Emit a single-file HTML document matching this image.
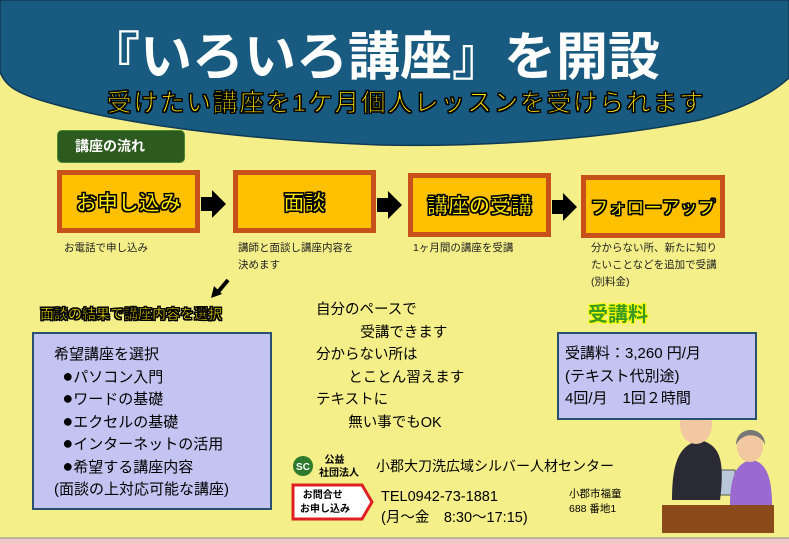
<!DOCTYPE html>
<html><head><meta charset="utf-8"><style>
body{margin:0;width:789px;height:544px;overflow:hidden;background:#fff;font-family:"Liberation Sans","Noto Sans CJK JP",sans-serif}
.a{position:absolute;white-space:nowrap}
.o{color:#ffe800;font-weight:bold;-webkit-text-stroke:1px #000;text-shadow:1px 1px 0 #000,-1px 1px 0 #000,1px -1px 0 #000,-1px -1px 0 #000}
.fb{position:absolute;background:#ffc000;border:5px solid #c8501a;box-sizing:border-box;display:flex;align-items:center;justify-content:center;font-size:21px;white-space:nowrap}
.cap{font-size:10.5px;color:#222;line-height:17px}
.b{font-size:18px;line-height:1}
</style></head><body>
<div class="a" style="left:0;top:0;width:789px;height:544px;background:#f4ef89"></div>
<svg class="a" style="left:0;top:0" width="789" height="544">
<path d="M0,0 H789 V78 C770,95 740,110 700,120 C600,140 480,147 380,145 C250,140 120,125 40,100 C15,92 5,85 0,72 Z" fill="#195b80" stroke="#0e3a55" stroke-width="1.5"/>
<rect x="0" y="538" width="789" height="6" fill="#f0c8c8"/>
<line x1="0" y1="538" x2="789" y2="538" stroke="#888"/>
<line x1="228" y1="280" x2="218" y2="292" stroke="#000" stroke-width="4"/>
<polygon points="211,298 214,286 222,294" fill="#000"/>
<g fill="#000">
<rect x="201" y="197" width="12" height="14"/><polygon points="212,190 226,204 212,218"/>
<rect x="377" y="198" width="12" height="14"/><polygon points="388,191 402,205 388,219"/>
<rect x="552" y="200" width="12" height="14"/><polygon points="563,193 577,207 563,221"/>
</g>
<rect x="662" y="505" width="112" height="28" fill="#8a4a1a"/>
<rect x="700" y="470" width="35" height="25" fill="#b8c8d8" stroke="#555"/>
<path d="M672,500 C672,460 680,445 700,440 C720,445 725,460 720,500 Z" fill="#2a2a35"/>
<ellipse cx="696" cy="425" rx="16" ry="19" fill="#f2c8a0"/>
<path d="M680,418 C680,400 712,400 712,418 L712,410 C706,402 686,402 680,410Z" fill="#666"/>
<path d="M730,505 C730,470 740,462 752,460 C765,462 772,475 772,505Z" fill="#9a6ad0"/>
<ellipse cx="750" cy="447" rx="13" ry="15" fill="#f2c8a0"/>
<path d="M736,445 C736,425 765,425 765,445 C760,432 742,432 736,445Z" fill="#777"/>
<circle cx="303" cy="466" r="10" fill="#2d7a2d"/><text x="303" y="470" font-size="10" fill="#fff" text-anchor="middle" font-weight="bold">SC</text>
<path d="M293,485 H362 L372,502 L362,519 H293 Z" fill="#fff" stroke="#e02020" stroke-width="3"/>
</svg>
<div class="a" style="left:88px;top:15px;font-size:52px;color:#fff;font-weight:bold">『いろいろ講座』を開設</div>
<div class="a o" style="left:107px;top:84px;font-size:24.5px;font-weight:normal;letter-spacing:2px">受けたい講座を1ケ月個人レッスンを受けられます</div>
<div class="a" style="left:57px;top:130px;width:128px;height:33px;background:#2d5a1e;border:1px solid #4a8a30;border-radius:5px;box-sizing:border-box;color:#fff;font-size:14px;font-weight:bold;line-height:31px;padding-left:17px">講座の流れ</div>
<div class="fb o" style="left:57px;top:170px;width:143px;height:63px">お申し込み</div>
<div class="fb o" style="left:233px;top:170px;width:143px;height:63px">面談</div>
<div class="fb o" style="left:408px;top:173px;width:143px;height:64px">講座の受講</div>
<div class="fb o" style="left:581px;top:175px;width:144px;height:63px;font-size:18px">フォローアップ</div>
<div class="a cap" style="left:64px;top:240px">お電話で申し込み</div>
<div class="a cap" style="left:238px;top:240px">講師と面談し講座内容を<br>決めます</div>
<div class="a cap" style="left:413px;top:240px">1ヶ月間の講座を受講</div>
<div class="a cap" style="left:591px;top:240px">分からない所、新たに知り<br>たいことなどを追加で受講<br>(別料金)</div>
<div class="a o" style="left:40px;top:304px;font-size:14px">面談の結果で講座内容を選択</div>
<div class="a" style="left:32px;top:332px;width:240px;height:178px;background:#c4c4f2;border:2px solid #2a5070;box-sizing:border-box;font-size:15px;line-height:22.5px;padding:10px 0 0 20px">希望講座を選択<br>&nbsp;&nbsp;<span class="b">●</span>パソコン入門<br>&nbsp;&nbsp;<span class="b">●</span>ワードの基礎<br>&nbsp;&nbsp;<span class="b">●</span>エクセルの基礎<br>&nbsp;&nbsp;<span class="b">●</span>インターネットの活用<br>&nbsp;&nbsp;<span class="b">●</span>希望する講座内容<br>(面談の上対応可能な講座)</div>
<div class="a" style="left:316px;top:299px;font-size:14.5px;line-height:22.5px">自分のペースで<br>&nbsp;&nbsp;&nbsp;&nbsp;&nbsp;&nbsp;&nbsp;&nbsp;&nbsp;&nbsp;&nbsp;受講できます<br>分からない所は<br>&nbsp;&nbsp;&nbsp;&nbsp;&nbsp;&nbsp;&nbsp;&nbsp;とことん習えます<br>テキストに<br>&nbsp;&nbsp;&nbsp;&nbsp;&nbsp;&nbsp;&nbsp;&nbsp;無い事でもOK</div>
<div class="a" style="left:588px;top:298px;font-size:20px;font-weight:bold;color:#3a9a20;text-shadow:1px 1px 0 #ff0,-1px 1px 0 #ff0,1px -1px 0 #ff0,-1px -1px 0 #ff0">受講料</div>
<div class="a" style="left:557px;top:332px;width:200px;height:88px;background:#c4c4f2;border:2px solid #2a5070;box-sizing:border-box;font-size:15px;line-height:22.5px;padding:9px 0 0 6px">受講料：3,260 円/月<br>(テキスト代別途)<br>4回/月　1回２時間</div>
<div class="a" style="left:319px;top:454px;font-size:10px;line-height:13px;font-weight:bold">&nbsp;&nbsp;公益<br>社団法人</div>
<div class="a" style="left:376px;top:456px;font-size:14px">小郡大刀洗広域シルバー人材センター</div>
<div class="a" style="left:300px;top:489px;font-size:10px;line-height:14px;font-weight:bold">&nbsp;お問合せ<br>お申し込み</div>
<div class="a" style="left:381px;top:487px;font-size:14.5px;line-height:21px">TEL0942-73-1881<br>(月～金　8:30～17:15)</div>
<div class="a" style="left:569px;top:487px;font-size:10.5px;line-height:15px">小郡市福童<br>688 番地1</div>
</body></html>
